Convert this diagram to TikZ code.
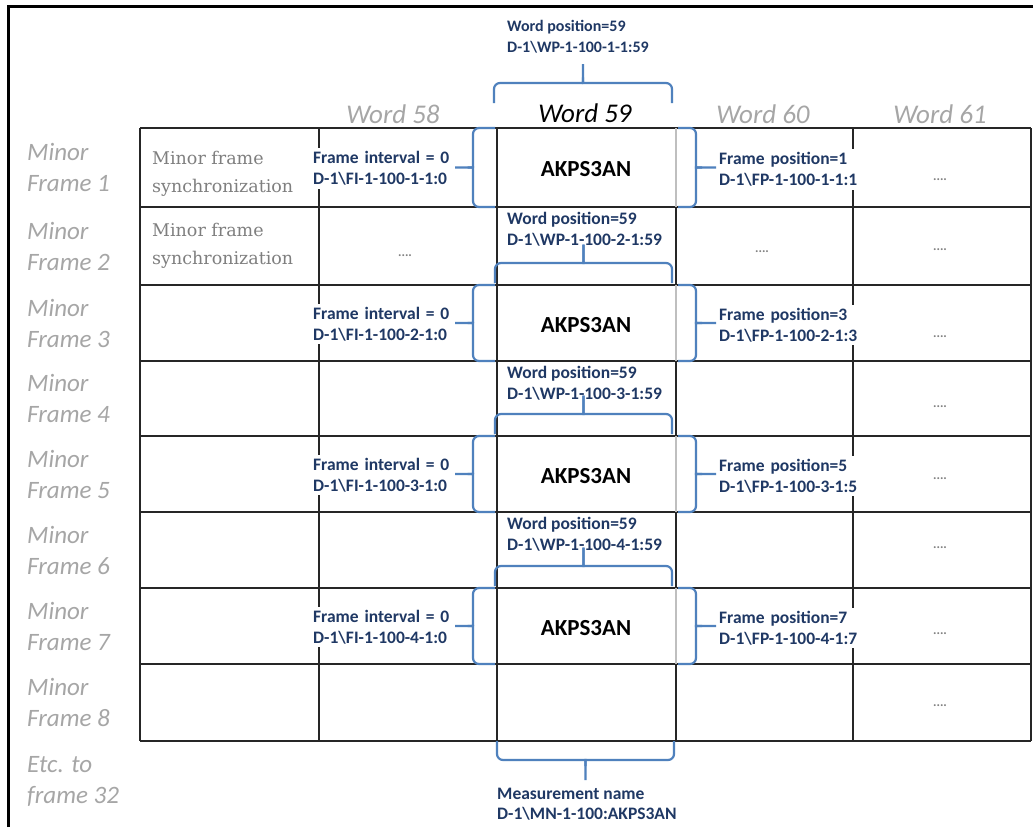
\documentclass[tikz,border=0pt]{standalone}
\usepackage{fontspec}
\setmainfont{Carlito}
\newfontfamily\serifg{DejaVu Serif}
\definecolor{navy}{HTML}{1F3864}
\definecolor{braceblue}{HTML}{4F81BD}
\definecolor{lgray}{HTML}{A6A6A6}
\definecolor{dgray}{HTML}{7F7F7F}
\newcommand{\hbr}[5]{%
  \pgfmathsetmacro\xm{(#1+#2)/2}%
  \pgfmathsetmacro\ys{#4+0.3*(#5-#4)}%
  \draw[brace] (#1,#3) -- (#1,#4) -- (\xm-6,#4) .. controls (\xm,#4) .. (\xm,\ys) -- (\xm,#5);
  \draw[brace] (#2,#3) -- (#2,#4) -- (\xm+6,#4) .. controls (\xm,#4) .. (\xm,\ys);
}
\newcommand{\vbr}[5]{%
  \pgfmathsetmacro\ym{(#1+#2)/2}%
  \pgfmathsetmacro\xs{#4+0.3*(#5-#4)}%
  \draw[brace] (#3,#1) -- (#4,#1) -- (#4,\ym-6) .. controls (#4,\ym) .. (\xs,\ym) -- (#5,\ym);
  \draw[brace] (#3,#2) -- (#4,#2) -- (#4,\ym+6) .. controls (#4,\ym) .. (\xs,\ym);
}
\begin{document}
\begin{tikzpicture}[x=1pt,y=-1pt,
  grid/.style={line width=1.4pt, draw=black!85},
  brace/.style={draw=braceblue, line width=2.2pt, rounded corners=6pt},
  lbl/.style={font=\fontsize{17.5}{21}\selectfont\bfseries, text=navy, align=left, inner sep=3pt, anchor=west},
  rowlbl/.style={font=\fontsize{25}{31}\selectfont\itshape, text=lgray, align=left, inner sep=0pt, anchor=west},
  hdr/.style={font=\fontsize{27}{30}\selectfont\itshape, text=lgray, inner sep=0pt},
  sync/.style={font=\fontsize{17.5}{28}\selectfont\serifg, text=dgray, align=left, inner sep=0pt, anchor=west},
  akps/.style={font=\fontsize{23}{26}\selectfont\bfseries, text=black, inner sep=0pt},
  dots/.style={font=\fontsize{13}{13}\selectfont\bfseries, text=gray, inner sep=0pt}]
\useasboundingbox (0,0) rectangle (1033,827);
\fill[white] (0,0) rectangle (1033,827);
\draw[line width=3pt] (8,827) -- (8,6) -- (1033,6);
% table grid
\foreach \y in {128,207,285,361,436,512,588,664,741} \draw[grid] (140,\y) -- (1031,\y);
\foreach \x in {140,319,497,853,1031} \draw[grid] (\x,128) -- (\x,741);
\draw[grid] (676,128) -- (676,741);
\foreach \a/\b in {128/207,285/361,436/512,588/664} \draw[line width=1.4pt, draw=black!25] (676,\a) -- (676,\b);
% row labels
\foreach \i/\yc in {1/167.5,2/246,3/323,4/398.5,5/474,6/550,7/626,8/702.5}
  \node[rowlbl] (mf\i) at (27,\yc) {Minor\\Frame \i};
\node[rowlbl] (etc) at (27,781) {Etc. to\\frame 32};
% word headers
\node[hdr] (w58) at (393,114) {Word 58};
\node[hdr, text=black] (w59) at (585,113) {Word 59};
\node[hdr] (w60) at (763,114) {Word 60};
\node[hdr] (w61) at (940,114) {Word 61};
% sync
\node[sync] (sync1) at (152,174) {Minor frame\\synchronization};
\node[sync] (sync2) at (152,246) {Minor frame\\synchronization};
% dots
\foreach \n/\x/\y in {a/940/180, b/405/256, c/762/252, d/940/250, e/940/337, f/940/407, g/940/479, h/940/548, i/940/634, j/940/706}
  \node[dots] (dot\n) at (\x,\y) {....};
% odd rows
\foreach \t/\b/\n/\p in {128/207/1/1, 285/361/2/3, 436/512/3/5, 588/664/4/7} {
  \pgfmathsetmacro\yc{(\t+\b)/2}
  \node[akps] (ak\n) at (586,\yc+2) {AKPS3AN};
  \node[lbl, fill=white, text width=143] (fi\n) at (310,\yc+1) {Frame interval = 0\\D-1\textbackslash FI-1-100-\n-1:0};
  \node[lbl, fill=white, text width=145] (fp\n) at (716,\yc+2) {Frame position=\p\\D-1\textbackslash FP-1-100-\n-1:\p};
  \vbr{\t}{\b}{495}{473}{455}
  \vbr{\t}{\b}{678}{696}{716}
}
% even rows
\foreach \t/\b/\n in {207/285/2, 361/436/3, 512/588/4} {
  \node[lbl] (wp\n) at (504,\t+22.5) {Word position=59\\D-1\textbackslash WP-1-100-\n-1:59};
  \hbr{495}{672}{\b-2}{\b-22}{\b-40}
}
% top and bottom
\node[lbl, font=\fontsize{16}{21}\selectfont\bfseries] (wptop) at (504,36.5) {Word position=59\\D-1\textbackslash WP-1-100-1-1:59};
\hbr{494}{672}{103}{83}{64}
\node[lbl, font=\fontsize{17.5}{20}\selectfont\bfseries] (mn) at (494,804.5) {Measurement name\\D-1\textbackslash MN-1-100:AKPS3AN};
\hbr{497}{674}{741}{760}{780}
\end{tikzpicture}
\end{document}
